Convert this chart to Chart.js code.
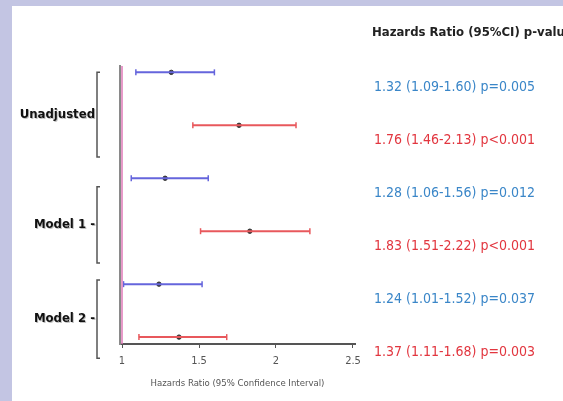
<!DOCTYPE html>
<html>
<head>
<meta charset="utf-8">
<script src="https://cdn.jsdelivr.net/npm/chart.js@4.4.0/dist/chart.umd.min.js"></script>
<style>
  html, body { margin: 0; padding: 0; }
  body { width: 563px; height: 401px; background: #c3c5e3; position: relative; overflow: hidden; }
  #sheet { position: absolute; left: 12px; top: 6px; right: 0; bottom: 0; background: #ffffff; }
  #wrap { position: absolute; left: 0; top: 0; width: 563px; height: 401px; }
</style>
</head>
<body>
<div id="sheet"></div>
<div id="wrap"><canvas id="forest"></canvas></div>
<script>
// Forest plot data, top row first
const groups = ['Unadjusted', 'Model 1', 'Model 2'];
const hr     = [1.32, 1.76, 1.28, 1.83, 1.24, 1.37];
const lower  = [1.09, 1.46, 1.06, 1.51, 1.01, 1.11];
const upper  = [1.60, 2.13, 1.56, 2.22, 1.52, 1.68];
const pvals  = ['p=0.005', 'p<0.001', 'p=0.012', 'p<0.001', 'p=0.037', 'p=0.003'];
const xTicks = [1, 1.5, 2, 2.5];

const NARROW = '"Liberation Sans Narrow", "DejaVu Sans Condensed", "Liberation Sans", sans-serif';
const lineColor = i => (i % 2 === 0 ? '#6565dc' : '#e8585c');
const textColor = i => (i % 2 === 0 ? '#3a86c8' : '#e2363f');

// one dataset per confidence interval, with bar caps on both ends
const ciSets = hr.map((v, i) => ({
  type: 'line',
  data: [{ x: lower[i], y: i }, { x: upper[i], y: i }],
  borderColor: lineColor(i),
  borderWidth: 2,
  pointStyle: 'line',
  rotation: 90,
  pointRadius: 3,
  pointBorderColor: lineColor(i),
  pointBorderWidth: 1.5,
  fill: false
}));

const pointSet = {
  type: 'scatter',
  data: hr.map((v, i) => ({ x: v, y: i })),
  pointRadius: 2.2,
  pointBackgroundColor: '#333',
  pointBorderColor: '#333'
};

// null-effect line at HR = 1
const refSet = {
  type: 'line',
  data: [{ x: 1, y: -0.12 }, { x: 1, y: 5.13 }],
  borderColor: '#e07ab8',
  borderWidth: 1.5,
  pointRadius: 0
};

// left group labels/brackets and right-hand result column
const sidePlugin = {
  id: 'side',
  afterDraw(chart) {
    const ctx = chart.ctx;
    const ys = chart.scales.y;
    // bracket extent of each group, in row units (the original is a bit uneven)
    const spans = [[0, 1.6], [2.16, 3.6], [3.92, 5.4]];
    ctx.save();

    groups.forEach((g, k) => {
      const top = ys.getPixelForValue(spans[k][0]);
      const bot = ys.getPixelForValue(spans[k][1]);
      const mid = (top + bot) / 2;
      ctx.strokeStyle = '#555';
      ctx.lineWidth = 1.5;
      ctx.beginPath();
      ctx.moveTo(100, top);
      ctx.lineTo(97, top);
      ctx.lineTo(97, bot);
      ctx.lineTo(100, bot);
      ctx.stroke();
      ctx.font = 'bold 13px ' + NARROW;
      ctx.textAlign = 'right';
      ctx.textBaseline = 'middle';
      const label = k === 0 ? g : g + ' -';
      ctx.fillStyle = 'rgba(0,0,0,0.25)';
      ctx.fillText(label, 96, mid + 1);
      ctx.fillStyle = '#111';
      ctx.fillText(label, 95, mid);
    });

    ctx.textAlign = 'left';
    ctx.textBaseline = 'middle';
    ctx.font = 'bold 13px ' + NARROW;
    ctx.fillStyle = '#222';
    ctx.fillText('Hazards Ratio (95%CI) p-value', 372, 33);

    ctx.font = '14px ' + NARROW;
    hr.forEach((v, i) => {
      const txt = v.toFixed(2) + ' (' + lower[i].toFixed(2) + '-' + upper[i].toFixed(2) + ') ' + pvals[i];
      ctx.fillStyle = textColor(i);
      ctx.fillText(txt, 374, ys.getPixelForValue(i) + 15);
    });
    ctx.restore();
  }
};

new Chart(document.getElementById('forest'), {
  type: 'scatter',
  data: { datasets: [refSet, ...ciSets, pointSet] },
  options: {
    responsive: true,
    maintainAspectRatio: false,
    animation: false,
    layout: { padding: { left: 120, right: 208, top: 66, bottom: 0 } },
    plugins: { legend: { display: false }, tooltip: { enabled: false } },
    scales: {
      x: {
        type: 'linear',
        min: 0.987,
        max: 2.513,
        afterBuildTicks: scale => { scale.ticks = xTicks.map(v => ({ value: v })); },
        afterFit: scale => { scale.height = 57; },
        border: { display: true, color: '#555', width: 2 },
        grid: { drawOnChartArea: false, drawTicks: true, tickLength: 4, color: '#555' },
        ticks: {
          color: '#555',
          font: { family: NARROW, size: 11 },
          padding: 7,
          callback: v => String(v)
        },
        title: {
          display: true,
          text: 'Hazards Ratio (95% Confidence Interval)',
          color: '#555',
          font: { family: NARROW, size: 9.5 },
          padding: { top: 0, bottom: 12 }
        }
      },
      y: {
        type: 'linear',
        reverse: true,
        min: -0.12,
        max: 5.13,
        afterFit: scale => { scale.width = 0; },
        border: { display: true, color: '#8a8a8a', width: 2 },
        grid: { display: false },
        ticks: { display: false }
      }
    }
  },
  plugins: [sidePlugin]
});
</script>
</body>
</html>
